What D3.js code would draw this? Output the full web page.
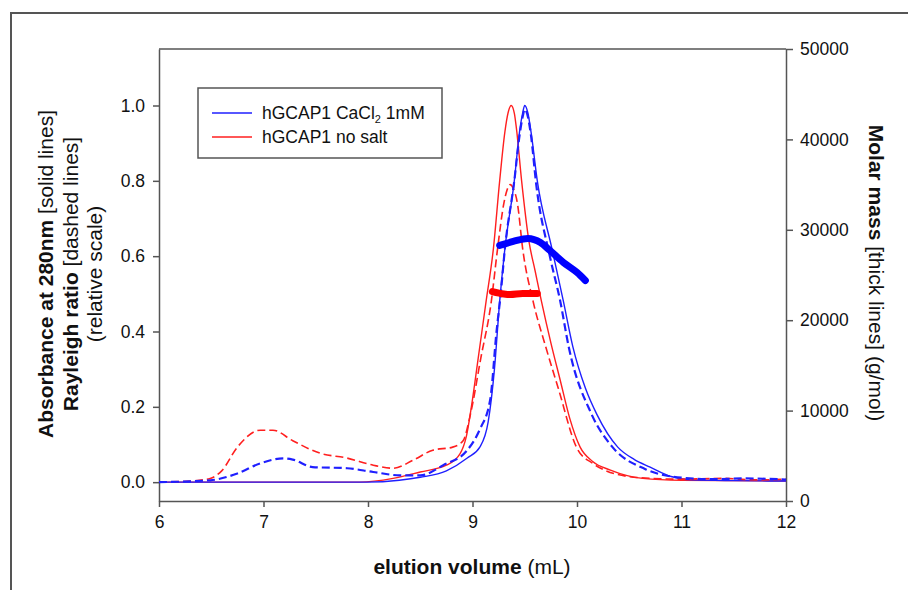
<!DOCTYPE html>
<html>
<head>
<meta charset="utf-8">
<script src="https://cdn.jsdelivr.net/npm/d3@7"></script>
<style>
  body { margin: 0; background: #fff; }
  text { font-family: "Liberation Sans", Arial, sans-serif; fill: #111; }
</style>
</head>
<body>
<div id="container"></div>
<script>
let w = 908;
let h = 590;

// elution volume (mL), relative absorbance at 280nm (solid lines)
let absCaCl2 = [[6.0,0],[7.0,0],[7.99,0],[8.3,0.005],[8.5,0.013],[8.75,0.03],[8.95,0.064],[9.07,0.093],[9.15,0.16],[9.21,0.3],[9.26,0.48],[9.31,0.62],[9.4,0.8],[9.45,0.93],[9.48,0.98],[9.5,1.0],[9.53,0.98],[9.56,0.93],[9.62,0.8],[9.76,0.62],[9.87,0.48],[9.96,0.36],[10.08,0.25],[10.19,0.18],[10.39,0.093],[10.55,0.06],[10.7,0.04],[10.9,0.015],[11.1,0.006],[11.5,0.004],[12,0.003]];
let absNoSalt = [[6.0,0],[7.0,0],[7.92,0],[8.24,0.01],[8.5,0.027],[8.75,0.045],[8.88,0.075],[8.94,0.12],[9.0,0.22],[9.05,0.32],[9.13,0.48],[9.2,0.62],[9.26,0.8],[9.31,0.93],[9.34,0.98],[9.37,1.0],[9.4,0.98],[9.42,0.94],[9.47,0.8],[9.54,0.64],[9.6,0.56],[9.66,0.48],[9.75,0.37],[9.84,0.27],[9.93,0.17],[10.03,0.093],[10.15,0.055],[10.32,0.032],[10.63,0.01],[11,0.005],[12,0.003]];

// Rayleigh ratio, relative scale (dashed lines)
let rayCaCl2 = [[6.0,0],[6.49,0.005],[6.75,0.023],[6.97,0.05],[7.19,0.063],[7.28,0.06],[7.47,0.04],[7.8,0.037],[8.05,0.027],[8.31,0.018],[8.5,0.018],[8.72,0.045],[8.95,0.085],[9.07,0.14],[9.17,0.22],[9.23,0.4],[9.27,0.5],[9.31,0.62],[9.4,0.8],[9.45,0.92],[9.48,0.97],[9.5,0.99],[9.53,0.97],[9.56,0.92],[9.61,0.79],[9.74,0.6],[9.84,0.48],[9.92,0.36],[10.14,0.18],[10.34,0.093],[10.65,0.035],[11.0,0.012],[11.3,0.008],[11.6,0.01],[12,0.007]];
let rayNoSalt = [[6.0,0],[6.3,0.003],[6.49,0.01],[6.6,0.03],[6.75,0.093],[6.97,0.138],[7.09,0.138],[7.28,0.11],[7.54,0.077],[7.8,0.064],[8.05,0.045],[8.24,0.037],[8.43,0.058],[8.62,0.085],[8.81,0.093],[8.91,0.11],[8.98,0.18],[9.08,0.33],[9.18,0.48],[9.24,0.62],[9.3,0.74],[9.33,0.775],[9.36,0.79],[9.39,0.78],[9.43,0.74],[9.48,0.62],[9.58,0.48],[9.7,0.36],[9.82,0.25],[10.0,0.09],[10.15,0.05],[10.28,0.03],[10.6,0.012],[11,0.008],[11.4,0.01],[11.7,0.006],[12,0.008]];

// molar mass g/mol (thick lines)
let mmCaCl2 = [[9.26,28270],[9.39,28710],[9.53,29050],[9.65,28600],[9.74,27720],[9.87,26390],[10.0,25280],[10.08,24390]];
let mmNoSalt = [[9.19,23170],[9.3,22900],[9.36,22840],[9.48,22950],[9.62,22950]];

let xTicks = [6, 7, 8, 9, 10, 11, 12];
let leftTicks = [0, 0.2, 0.4, 0.6, 0.8, 1.0];
let rightTicks = [0, 10000, 20000, 30000, 40000, 50000];

let blue = "#1f1fff";
let red = "#ff1f1f";
let axisColor = "#555";

let viz = d3.select("#container")
  .append("svg")
  .attr("width", w)
  .attr("height", h)
  .style("background-color", "white");

// outer frame (only top and left edges are visible)
viz.append("path")
  .attr("d", "M11,590 L11,13 L908,13")
  .attr("fill", "none")
  .attr("stroke", axisColor)
  .attr("stroke-width", 2);

let xScale = d3.scaleLinear().domain([6, 12]).range([159, 786]);
let yLeft = d3.scaleLinear().domain([-0.05, 1.15]).range([501, 49]);
let yRight = d3.scaleLinear().domain([0, 50000]).range([501, 49]);

viz.append("clipPath").attr("id", "plotClip")
  .append("rect")
  .attr("x", 159).attr("y", 49)
  .attr("width", 627).attr("height", 452);

// top border of plot
viz.append("line")
  .attr("x1", 159).attr("x2", 786)
  .attr("y1", 49).attr("y2", 49)
  .attr("stroke", axisColor)
  .attr("stroke-width", 1.5);

function styleAxis(g) {
  g.select(".domain").attr("stroke", axisColor).attr("stroke-width", 1.5);
  g.selectAll(".tick line").attr("stroke", axisColor).attr("stroke-width", 1.5);
  g.selectAll(".tick text")
    .style("font-family", "'Liberation Sans', Arial, sans-serif")
    .style("font-size", "17.5px")
    .attr("fill", "#111");
}

let xAxis = d3.axisBottom(xScale).tickValues(xTicks).tickFormat(d3.format("d"))
  .tickSize(6).tickSizeOuter(0).tickPadding(9);
let xAxisGroup = viz.append("g").attr("transform", "translate(0,501)").call(xAxis);
styleAxis(xAxisGroup);

let leftAxis = d3.axisLeft(yLeft).tickValues(leftTicks).tickFormat(d3.format(".1f"))
  .tickSize(6).tickSizeOuter(0).tickPadding(8);
let leftAxisGroup = viz.append("g").attr("transform", "translate(159,0)").call(leftAxis);
styleAxis(leftAxisGroup);

let rightAxis = d3.axisRight(yRight).tickValues(rightTicks).tickFormat(d3.format("d"))
  .tickSize(7).tickSizeOuter(0).tickPadding(7);
let rightAxisGroup = viz.append("g").attr("transform", "translate(786,0)").call(rightAxis);
styleAxis(rightAxisGroup);

// curves
let plot = viz.append("g").attr("clip-path", "url(#plotClip)");

let leftLine = d3.line()
  .x(d => xScale(d[0]))
  .y(d => yLeft(d[1]))
  .curve(d3.curveMonotoneX);

let rightLine = d3.line()
  .x(d => xScale(d[0]))
  .y(d => yRight(d[1]))
  .curve(d3.curveMonotoneX);

plot.append("path").datum(absNoSalt).attr("d", leftLine)
  .attr("fill", "none").attr("stroke", red).attr("stroke-width", 1.4);
plot.append("path").datum(absCaCl2).attr("d", leftLine)
  .attr("fill", "none").attr("stroke", blue).attr("stroke-width", 1.4);
plot.append("path").datum(rayNoSalt).attr("d", leftLine)
  .attr("fill", "none").attr("stroke", red).attr("stroke-width", 1.6)
  .attr("stroke-dasharray", "8,4");
plot.append("path").datum(rayCaCl2).attr("d", leftLine)
  .attr("fill", "none").attr("stroke", blue).attr("stroke-width", 2.2)
  .attr("stroke-dasharray", "8,4");

plot.append("path").datum(mmNoSalt).attr("d", rightLine)
  .attr("fill", "none").attr("stroke", "#f00").attr("stroke-width", 7)
  .attr("stroke-linecap", "round").attr("stroke-linejoin", "round");
plot.append("path").datum(mmCaCl2).attr("d", rightLine)
  .attr("fill", "none").attr("stroke", "#00f").attr("stroke-width", 7)
  .attr("stroke-linecap", "round").attr("stroke-linejoin", "round");

// legend
let legend = viz.append("g");
legend.append("rect")
  .attr("x", 198).attr("y", 88)
  .attr("width", 244).attr("height", 70)
  .attr("fill", "white")
  .attr("stroke", axisColor)
  .attr("stroke-width", 1.5);

let legendItems = [
  { color: blue, y: 113 },
  { color: red, y: 137 }
];
legend.selectAll(".legLine").data(legendItems).enter()
  .append("line")
  .attr("x1", 212).attr("x2", 252)
  .attr("y1", d => d.y).attr("y2", d => d.y)
  .attr("stroke", d => d.color)
  .attr("stroke-width", 1.4);

let leg1 = legend.append("text")
  .attr("x", 262).attr("y", 119)
  .style("font-size", "17.5px");
leg1.append("tspan").text("hGCAP1 CaCl");
leg1.append("tspan").text("2").style("font-size", "11px").attr("dy", 4);
leg1.append("tspan").text(" 1mM").attr("dy", -4);

legend.append("text")
  .attr("x", 262).attr("y", 143)
  .style("font-size", "17.5px")
  .text("hGCAP1 no salt");

// axis titles
let xTitle = viz.append("text")
  .attr("x", 472).attr("y", 574)
  .attr("text-anchor", "middle")
  .style("font-size", "21px");
xTitle.append("tspan").text("elution volume").style("font-weight", "bold");
xTitle.append("tspan").text(" (mL)");

let yTitle1 = viz.append("text")
  .attr("transform", "translate(52.5,274) rotate(-90)")
  .attr("text-anchor", "middle")
  .style("font-size", "21px");
yTitle1.append("tspan").text("Absorbance at 280nm").style("font-weight", "bold");
yTitle1.append("tspan").text(" [solid lines]");

let yTitle2 = viz.append("text")
  .attr("transform", "translate(77.5,274) rotate(-90)")
  .attr("text-anchor", "middle")
  .style("font-size", "21px");
yTitle2.append("tspan").text("Rayleigh ratio").style("font-weight", "bold");
yTitle2.append("tspan").text(" [dashed lines]");

viz.append("text")
  .attr("transform", "translate(101.5,274) rotate(-90)")
  .attr("text-anchor", "middle")
  .style("font-size", "21px")
  .text("(relative scale)");

let rTitle = viz.append("text")
  .attr("transform", "translate(869,273) rotate(90)")
  .attr("text-anchor", "middle")
  .style("font-size", "21px");
rTitle.append("tspan").text("Molar mass").style("font-weight", "bold");
rTitle.append("tspan").text(" [thick lines] (g/mol)");
</script>
</body>
</html>
